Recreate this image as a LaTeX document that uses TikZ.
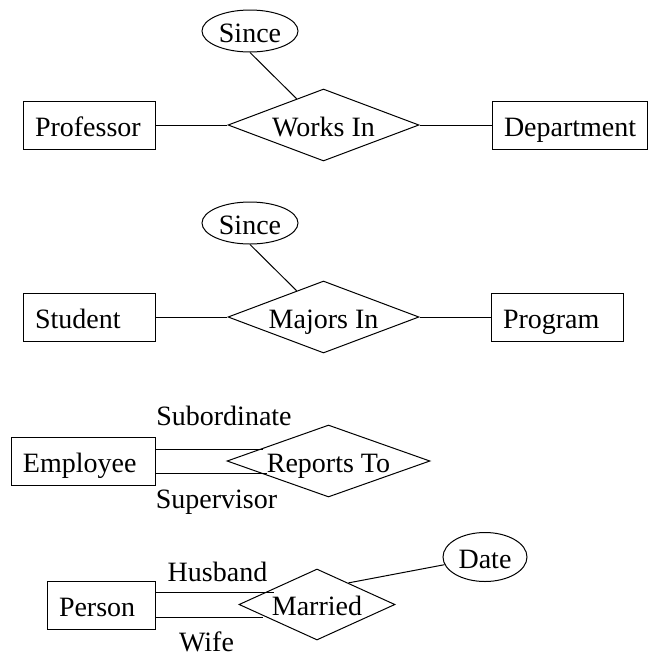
\documentclass[tikz,border=0pt]{standalone}
\usepackage{fontspec}
\setmainfont{Liberation Serif}
\usetikzlibrary{shapes.geometric, calc}

\begin{document}
\begin{tikzpicture}[x=1pt, y=-1pt, line width=1pt,
    every node/.style={font=\fontsize{28}{32}\selectfont, text height=22pt, text depth=0pt},
    entity/.style={draw, rectangle, minimum height=48pt, inner xsep=12pt, inner ysep=0pt, align=left},
    relation/.style={draw, diamond, inner sep=0pt},
    attrib/.style={draw, ellipse, inner sep=0pt, minimum width=96pt, minimum height=42pt},
    role/.style={inner sep=0pt}]
  \useasboundingbox (0,0) rectangle (648,657);

  % professor works in department
  \node[entity, text width=108pt] (professor) at (89,125) {Professor};
  \node[relation, aspect=2.65, minimum width=191pt, minimum height=72pt] (worksin) at (323.5,125) {Works In};
  \node[entity, text width=131pt] (department) at (569.5,125) {Department};
  \node[attrib] (since1) at (250,31) {Since};
  \coordinate (w1) at ($(worksin.west)!0.72!(worksin.north)$);
  \draw (professor) -- (worksin);
  \draw (worksin) -- (department);
  \draw (since1.south) -- (w1);

  % student majors in program
  \node[entity, text width=108pt] (student) at (89,317) {Student};
  \node[relation, aspect=2.65, minimum width=191pt, minimum height=72pt] (majorsin) at (323.5,317) {Majors In};
  \node[entity, text width=108pt] (program) at (557,317) {Program};
  \node[attrib] (since2) at (250,223) {Since};
  \coordinate (m0) at ($(majorsin.west)!0.72!(majorsin.north)$);
  \draw (student) -- (majorsin);
  \draw (majorsin) -- (program);
  \draw (since2.south) -- (m0);

  % employee reports to employee
  \node[entity, text width=120pt] (employee) at (83,461) {Employee};
  \node[relation, aspect=2.82, minimum width=203pt, minimum height=72pt] (reportsto) at (328.5,461) {Reports To};
  \node[role] (subordinate) at (224,414) {Subordinate};
  \node[role] (supervisor) at (216.5,497) {Supervisor};
  \coordinate (subend) at (263,449);
  \coordinate (supend) at (267,473);
  \draw ($(employee.east)+(0,-12)$) -- (subend);
  \draw ($(employee.east)+(0,12)$) -- (supend);

  % person married person
  \node[entity, text width=84pt] (person) at (101,605) {Person};
  \node[relation, aspect=2.2, minimum width=156pt, minimum height=71pt] (married) at (317,604.5) {Married};
  \node[role] (husband) at (217.5,570) {Husband};
  \node[role] (wife) at (206.5,640) {Wife};
  \node[attrib, minimum width=84pt, minimum height=49pt] (date) at (485,557) {Date};
  \coordinate (husend) at (274,592);
  \coordinate (wifend) at (263,617);
  \coordinate (d1) at ($(married.north)!0.4!(married.east)$);
  \draw ($(person.east)+(0,-13)$) -- (husend);
  \draw ($(person.east)+(0,12)$) -- (wifend);
  \draw (d1) -- (date);
\end{tikzpicture}
\end{document}
